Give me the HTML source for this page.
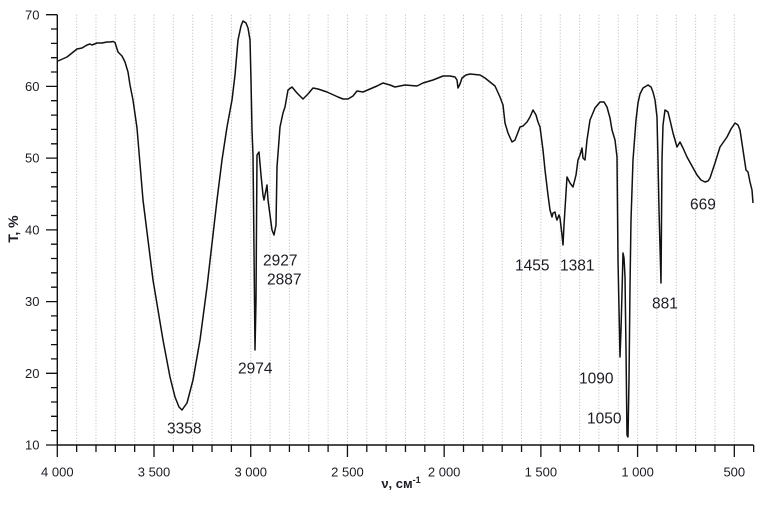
<!DOCTYPE html>
<html><head><meta charset="utf-8"><style>
html,body{margin:0;padding:0;background:#fff;}
svg{display:block;}
text{font-family:"Liberation Sans","DejaVu Sans",sans-serif;fill:#1c1c24;}
</style></head><body>
<svg width="772" height="512" viewBox="0 0 772 512" xmlns="http://www.w3.org/2000/svg">
<rect width="772" height="512" fill="#fff"/>
<!-- grid -->
<path stroke="#b8b8b8" stroke-width="1" stroke-dasharray="1,2" fill="none" d="
M76.64 14.7V445 M95.99 14.7V445 M115.33 14.7V445 M134.67 14.7V445 M154.02 14.7V445
M173.36 14.7V445 M192.70 14.7V445 M212.04 14.7V445 M231.39 14.7V445 M250.73 14.7V445
M270.07 14.7V445 M289.42 14.7V445 M308.76 14.7V445 M328.10 14.7V445 M347.45 14.7V445
M366.79 14.7V445 M386.13 14.7V445 M405.47 14.7V445 M424.82 14.7V445 M444.16 14.7V445
M463.5 14.7V445 M482.85 14.7V445 M502.19 14.7V445 M521.53 14.7V445 M540.88 14.7V445
M560.22 14.7V445 M579.56 14.7V445 M598.90 14.7V445 M618.25 14.7V445 M637.59 14.7V445
M656.93 14.7V445 M676.28 14.7V445 M695.62 14.7V445 M714.96 14.7V445 M734.31 14.7V445"/>
<!-- axes -->
<path stroke="#111" stroke-width="1.4" fill="none" d="M57.3 14.7V445H753.6"/>
<!-- y ticks major -->
<path stroke="#111" stroke-width="1.3" fill="none" d="M46 445H57.3 M46 373.3H57.3 M46 301.6H57.3 M46 229.9H57.3 M46 158.1H57.3 M46 86.4H57.3 M46 14.7H57.3"/>
<!-- y ticks minor -->
<path stroke="#111" stroke-width="1.3" fill="none" d="
M51 430.66H57.3 M51 416.3H57.3 M51 402H57.3 M51 387.6H57.3
M51 358.9H57.3 M51 344.6H57.3 M51 330.2H57.3 M51 315.9H57.3
M51 287.2H57.3 M51 272.8H57.3 M51 258.5H57.3 M51 244.2H57.3
M51 215.5H57.3 M51 201.1H57.3 M51 186.8H57.3 M51 172.5H57.3
M51 143.8H57.3 M51 129.4H57.3 M51 115.1H57.3 M51 100.7H57.3
M51 72H57.3 M51 57.7H57.3 M51 43.4H57.3 M51 29H57.3"/>
<!-- x ticks major -->
<path stroke="#111" stroke-width="1.3" fill="none" d="M57.3 445V457 M154.02 445V457 M250.73 445V457 M347.45 445V457 M444.16 445V457 M540.88 445V457 M637.59 445V457 M734.31 445V457"/>
<!-- x ticks minor -->
<path stroke="#111" stroke-width="1.3" fill="none" d="
M76.64 445V452 M95.99 445V452 M115.33 445V452 M134.67 445V452
M173.36 445V452 M192.70 445V452 M212.04 445V452 M231.39 445V452
M270.07 445V452 M289.42 445V452 M308.76 445V452 M328.10 445V452
M366.79 445V452 M386.13 445V452 M405.47 445V452 M424.82 445V452
M463.5 445V452 M482.85 445V452 M502.19 445V452 M521.53 445V452
M560.22 445V452 M579.56 445V452 M598.90 445V452 M618.25 445V452
M656.93 445V452 M676.28 445V452 M695.62 445V452 M714.96 445V452
M753.65 445V452"/>
<!-- y labels -->
<g font-size="13" text-anchor="end">
<text x="39.5" y="449.6">10</text>
<text x="39.5" y="377.9">20</text>
<text x="39.5" y="306.2">30</text>
<text x="39.5" y="234.5">40</text>
<text x="39.5" y="162.7">50</text>
<text x="39.5" y="91">60</text>
<text x="39.5" y="19.3">70</text>
</g>
<!-- x labels -->
<g font-size="13" text-anchor="middle">
<text x="57.3" y="476.3">4 000</text>
<text x="154.02" y="476.3">3 500</text>
<text x="250.73" y="476.3">3 000</text>
<text x="347.45" y="476.3">2 500</text>
<text x="444.16" y="476.3">2 000</text>
<text x="540.88" y="476.3">1 500</text>
<text x="637.59" y="476.3">1 000</text>
<text x="734.31" y="476.3">500</text>
</g>
<!-- axis titles -->
<text x="401" y="488" font-size="13" font-weight="bold" text-anchor="middle">ν, см<tspan font-size="9" dy="-5">-1</tspan></text>
<text transform="translate(18,229) rotate(-90)" font-size="14" font-weight="bold" text-anchor="middle">T, %</text>
<!-- spectrum -->
<polyline fill="none" stroke="#111" stroke-width="1.5" stroke-linejoin="round" points="
58,61 67,57 77,49 82,48 87,45 90,44 92,45 97,43 102,43 107,42 110,42 113,41.5 115,42.5 118,52 122,56 125,62 128,72 130,85 133,100 137,128 143,200 153,280 163,340 170,377 175,397 179,407 182,410 187,403 193,380 200,340 207,287 217,200 222,160 227,127 232,100 235,75 238,40 241,26 243,21 246,23 248,28 250,40 251,80 252,130 253,155 254,250 255,350 256,300 257,155 259,152 261,175 263,195 264,200 266,190 267,185 268,200 270,215 272,230 274,235 276,225 277,167 280,127 283,113 285,107 288,90 292,87 297,93 303,99 308,94 313,88 318,89 327,92 338,97 343,99 348,99 353,96 357,91 363,92 370,89 377,86 383,83 390,85 395,87 405,85 417,86 423,83 433,80 443,76 450,76 455,77 457,80 458,88 460,84 462,78 466,75 470,74 480,75 485,78 490,82 495,86 500,97 503,105 505,123 508,133 512,142 515,140 520,127 523,126 527,122 530,117 533,110 536,115 538,122 540,127 543,150 545,170 548,195 550,210 552,217 553,213 555,212 556,217 557,220 559,215 560,218 562,235 563,245 564,225 567,177 570,183 573,187 576,175 578,160 580,155 582,148 583,158 585,160 587,140 590,120 595,108 600,102 604,102 607,107 610,118 612,130 615,140 617,157 618,260 620,357 621,330 622,293 623,253 624,258 625,277 626,350 627,435 628,437 629,380 630,287 631,220 633,160 636,120 638,103 640,94 643,88 648,85 651,87 653,92 655,100 657,117 658,160 659,210 661,283 662,160 663,125 665,110 668,112 670,120 673,133 675,140 677,147 680,142 683,148 687,157 692,166 697,175 701,180 705,182 708,181 710,178 715,163 720,147 727,137 731,129 735,123 738,125 740,130 743,150 746,170 748,172 750,182 752,190 753,203"/>
<!-- peak labels -->
<g font-size="15.5">
<text x="167" y="433.5">3358</text>
<text x="238" y="373.5">2974</text>
<text x="263" y="265.5">2927</text>
<text x="267" y="284.5">2887</text>
<text x="515" y="270.5">1455</text>
<text x="560" y="270.5">1381</text>
<text x="579" y="383.5">1090</text>
<text x="587" y="423.5">1050</text>
<text x="652" y="308.5">881</text>
<text x="690" y="209.5">669</text>
</g>
</svg>
</body></html>
